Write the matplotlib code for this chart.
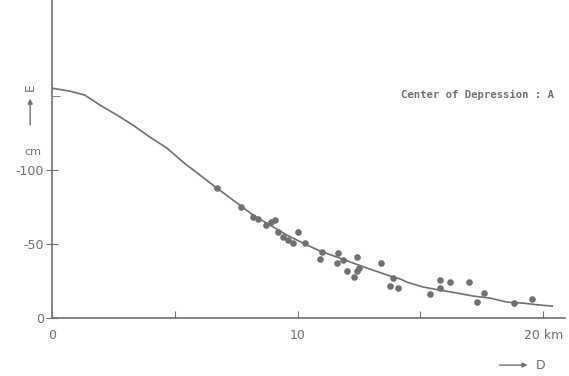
import matplotlib.pyplot as plt

# fitted curve (distance km, subsidence cm)
curve_x = [0, 0.73, 1.34, 1.96, 2.65, 3.30, 3.99, 4.68, 5.34, 6.03, 6.72,
           7.54, 8.19, 8.88, 9.57, 10.22, 10.92, 11.61, 12.26, 12.95, 13.65,
           14.18, 14.46, 15.11, 15.8, 16.5, 17.15, 17.84, 18.53, 19.19, 19.88,
           20.37]
curve_y = [155.4, 153.4, 150.7, 143.9, 137.2, 130.4, 122.3, 114.9, 105.4,
           96.6, 87.8, 77.7, 69.6, 62.8, 56.1, 50.7, 45.3, 41.2, 37.2, 33.1,
           29.1, 26.4, 24.3, 21.0, 18.9, 16.9, 14.9, 13.5, 10.8, 10.1, 8.8,
           8.1]

# observed points
obs_x = [6.7, 7.7, 8.2, 8.4, 8.7, 8.9, 9.1, 9.2, 9.4, 9.6, 9.8, 10.0, 10.3,
         10.9, 11.0, 11.6, 11.65, 11.85, 12.0, 12.3, 12.4, 12.4, 12.5,
         13.4, 13.9, 13.77, 14.1, 15.4, 15.8, 15.8, 16.2, 17.0, 17.3,
         17.6, 18.8, 19.55]
obs_y = [88, 75, 68, 67, 63, 65, 66, 58, 55, 53, 51, 58, 51,
         40, 45, 37, 44, 39, 32, 28, 32, 41, 34,
         37, 27, 21.6, 20.3, 16.2, 25.7, 20.3, 24.3, 24.3, 10.8,
         16.9, 10.1, 12.8]

col = "#707070"

fig = plt.figure(figsize=(5.69, 3.76), dpi=100)
ax = fig.add_axes([0.0914, 0.154, 0.902, 0.846])

ax.plot(curve_x, curve_y, color=col, lw=1.2)
ax.scatter(obs_x, obs_y, s=14, color=col, zorder=3)

ax.set_xlim(0, 20.9)
ax.set_ylim(0, 215)
for s in ["top", "right"]:
    ax.spines[s].set_visible(False)
for s in ["left", "bottom"]:
    ax.spines[s].set_color(col)
    ax.spines[s].set_linewidth(1.2)

ax.set_xticks([0, 5, 10, 15, 20])
ax.set_xticklabels(["0", "", "10", "", "20 km"])
ax.set_yticks([0, 50, 100])
ax.set_yticklabels(["0", "-50", "-100"])
ax.set_yticks([150], minor=True)
ax.tick_params(axis="x", direction="in", length=5, color=col, labelcolor=col,
               labelsize=9, pad=8)
ax.tick_params(axis="y", direction="inout", length=8, color=col, labelcolor=col,
               labelsize=9, pad=2)
ax.tick_params(axis="y", which="minor", direction="in", length=6, color=col)

ax.text(0.83, 0.70, "Center of Depression : A", transform=ax.transAxes,
        ha="center", va="center", fontsize=7.7, color=col, fontweight="bold",
        family="DejaVu Sans Mono")
fig.text(0.053, 0.768, "E", rotation=90, ha="center", va="center",
         fontsize=9, color=col)
ax.annotate("", xy=(0.053, 0.745), xytext=(0.053, 0.66), xycoords="figure fraction",
            arrowprops=dict(arrowstyle="-|>", color=col, lw=1, mutation_scale=7),
            annotation_clip=False)
fig.text(0.058, 0.596, "cm", ha="center", va="center", fontsize=8, color=col)
ax.annotate("", xy=(0.932, 0.029), xytext=(0.873, 0.029), xycoords="figure fraction",
            arrowprops=dict(arrowstyle="-|>", color=col, lw=1, mutation_scale=7),
            annotation_clip=False)
fig.text(0.95, 0.029, "D", ha="center", va="center", fontsize=9, color=col)

fig.savefig("out.png", dpi=100)
